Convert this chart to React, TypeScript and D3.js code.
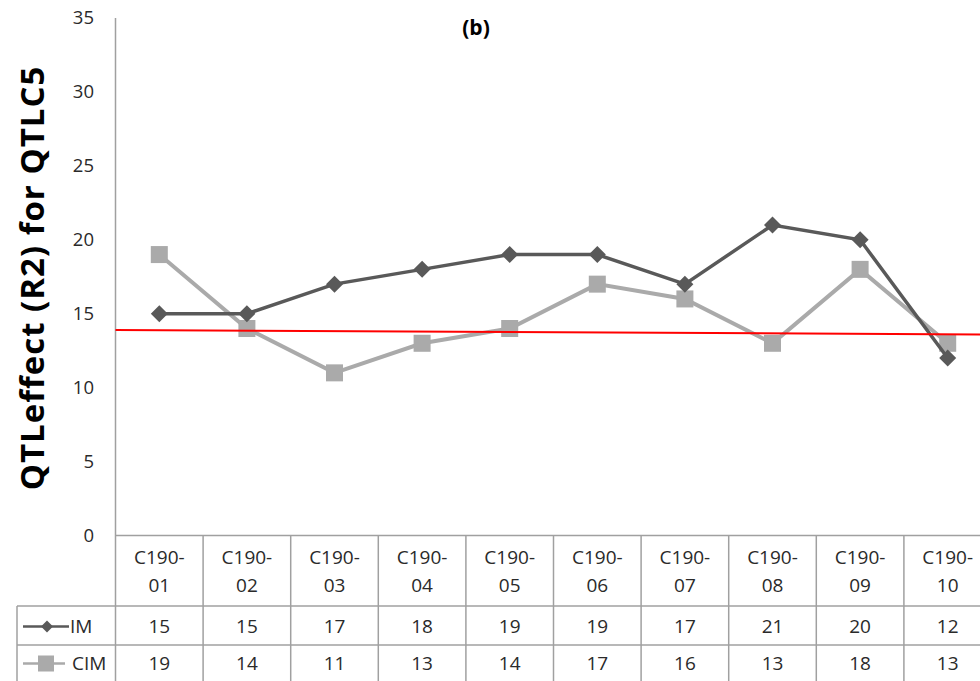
import React, { useEffect, useRef } from 'react';
import * as d3 from 'd3';

const categories = ['C190-01', 'C190-02', 'C190-03', 'C190-04', 'C190-05', 'C190-06', 'C190-07', 'C190-08', 'C190-09', 'C190-10'];
const imValues = [15, 15, 17, 18, 19, 19, 17, 21, 20, 12];
const cimValues = [19, 14, 11, 13, 14, 17, 16, 13, 18, 13];
const yTicks = [0, 5, 10, 15, 20, 25, 30, 35];
const thresholdEnds = [13.9, 13.6];

export default function App() {
  const ref = useRef<SVGSVGElement>(null);

  const width = 980;
  const height = 681;
  const left = 115.5;
  const colW = 87.6;
  const top = 18;
  const base = 535.5;

  useEffect(() => {
    const svg = d3.select(ref.current);
    svg.selectAll('*').remove();

    const x = d3
      .scaleBand()
      .domain(categories)
      .range([left, left + colW * categories.length])
      .padding(0);
    const cx = (c: string) => (x(c) as number) + x.bandwidth() / 2;

    const y = d3.scaleLinear().domain([0, 35]).range([base, top]);

    const font = "'Open Sans', 'DejaVu Sans', sans-serif";
    const grid = '#a0a0a0';
    const textColor = '#2a2a2a';

    // nhãn trục y
    svg
      .append('g')
      .selectAll('text')
      .data(yTicks)
      .enter()
      .append('text')
      .attr('x', 94)
      .attr('y', (d) => y(d))
      .attr('dy', '0.35em')
      .attr('text-anchor', 'end')
      .attr('font-family', font)
      .attr('font-size', 18.5)
      .attr('fill', textColor)
      .text((d) => d);

    // trục y (kéo xuống qua bảng)
    svg
      .append('line')
      .attr('x1', left)
      .attr('x2', left)
      .attr('y1', top)
      .attr('y2', height)
      .attr('stroke', grid)
      .attr('stroke-width', 1.5);

    // lưới bảng dữ liệu
    const rowHeader = 606;
    const rowIm = 645;
    [base, rowHeader, rowIm].forEach((yy, i) => {
      svg
        .append('line')
        .attr('x1', i === 0 ? left : 17)
        .attr('x2', width)
        .attr('y1', yy)
        .attr('y2', yy)
        .attr('stroke', grid)
        .attr('stroke-width', 1.5);
    });
    svg
      .append('line')
      .attr('x1', 17)
      .attr('x2', 17)
      .attr('y1', rowHeader)
      .attr('y2', height)
      .attr('stroke', grid)
      .attr('stroke-width', 1.5);
    categories.forEach((c) => {
      const xx = (x(c) as number) + x.bandwidth();
      svg
        .append('line')
        .attr('x1', xx)
        .attr('x2', xx)
        .attr('y1', base)
        .attr('y2', height)
        .attr('stroke', grid)
        .attr('stroke-width', 1.5);
    });

    // nhãn danh mục (2 dòng)
    const cat = svg
      .append('g')
      .selectAll('text')
      .data(categories)
      .enter()
      .append('text')
      .attr('text-anchor', 'middle')
      .attr('font-family', font)
      .attr('font-size', 19)
      .attr('fill', textColor);
    cat
      .append('tspan')
      .attr('x', (d) => cx(d))
      .attr('y', 557)
      .attr('dy', '0.35em')
      .text((d) => d.split('-')[0] + '-');
    cat
      .append('tspan')
      .attr('x', (d) => cx(d))
      .attr('y', 585)
      .attr('dy', '0.35em')
      .text((d) => d.split('-')[1]);

    // giá trị trong bảng
    const keyY1 = 626.5;
    const keyY2 = 663.5;
    const rows = [
      { values: imValues, yy: keyY1 },
      { values: cimValues, yy: keyY2 },
    ];
    rows.forEach((r) => {
      svg
        .append('g')
        .selectAll('text')
        .data(r.values)
        .enter()
        .append('text')
        .attr('x', (d, i) => cx(categories[i]))
        .attr('y', r.yy)
        .attr('dy', '0.35em')
        .attr('text-anchor', 'middle')
        .attr('font-family', font)
        .attr('font-size', 19)
        .attr('fill', textColor)
        .text((d) => d);
    });

    const imColor = '#595959';
    const cimColor = '#aaaaaa';
    const diamond = (s: number) => `M0,${-s}L${s},0L0,${s}L${-s},0Z`;

    // chú thích trong bảng
    svg.append('line').attr('x1', 23).attr('x2', 69).attr('y1', keyY1).attr('y2', keyY1).attr('stroke', imColor).attr('stroke-width', 2.5);
    svg.append('path').attr('d', diamond(6)).attr('transform', `translate(47,${keyY1})`).attr('fill', imColor);
    svg.append('line').attr('x1', 23).attr('x2', 65).attr('y1', keyY2).attr('y2', keyY2).attr('stroke', cimColor).attr('stroke-width', 2.5);
    svg.append('rect').attr('x', 38).attr('y', keyY2 - 8).attr('width', 16).attr('height', 16).attr('fill', cimColor);
    svg.append('text').attr('x', 70).attr('y', keyY1).attr('dy', '0.35em').attr('font-family', font).attr('font-size', 19).attr('fill', textColor).text('IM');
    svg.append('text').attr('x', 72).attr('y', keyY2).attr('dy', '0.35em').attr('font-family', font).attr('font-size', 19).attr('fill', textColor).text('CIM');

    // đường dữ liệu
    const line = d3
      .line<number>()
      .x((d, i) => cx(categories[i]))
      .y((d) => y(d));

    svg.append('path').datum(cimValues).attr('d', line).attr('fill', 'none').attr('stroke', cimColor).attr('stroke-width', 4);
    svg
      .append('g')
      .selectAll('rect')
      .data(cimValues)
      .enter()
      .append('rect')
      .attr('x', (d, i) => cx(categories[i]) - 8.5)
      .attr('y', (d) => y(d) - 8.5)
      .attr('width', 17)
      .attr('height', 17)
      .attr('fill', cimColor);

    svg.append('path').datum(imValues).attr('d', line).attr('fill', 'none').attr('stroke', imColor).attr('stroke-width', 3.5);
    svg
      .append('g')
      .selectAll('path')
      .data(imValues)
      .enter()
      .append('path')
      .attr('d', diamond(8.5))
      .attr('transform', (d, i) => `translate(${cx(categories[i])},${y(d)})`)
      .attr('fill', imColor);

    // đường ngưỡng màu đỏ
    svg
      .append('line')
      .attr('x1', left)
      .attr('x2', width)
      .attr('y1', y(thresholdEnds[0]))
      .attr('y2', y(thresholdEnds[1]))
      .attr('stroke', '#ff0000')
      .attr('stroke-width', 2);

    // tiêu đề
    svg
      .append('text')
      .attr('x', 476)
      .attr('y', 35)
      .attr('text-anchor', 'middle')
      .attr('font-family', font)
      .attr('font-weight', 'bold')
      .attr('font-size', 21)
      .attr('fill', '#000')
      .text('(b)');

    // tên trục y
    svg
      .append('text')
      .attr('transform', `translate(44,278) rotate(-90)`)
      .attr('text-anchor', 'middle')
      .attr('font-family', font)
      .attr('font-weight', 'bold')
      .attr('font-size', 33)
      .attr('letter-spacing', 1)
      .attr('fill', '#000')
      .text('QTLeffect (R2) for QTLC5');
  }, []);

  return (
    <svg
      ref={ref}
      width={width}
      height={height}
      style={{ position: 'absolute', left: 0, top: 0, background: '#fff' }}
    ></svg>
  );
}
